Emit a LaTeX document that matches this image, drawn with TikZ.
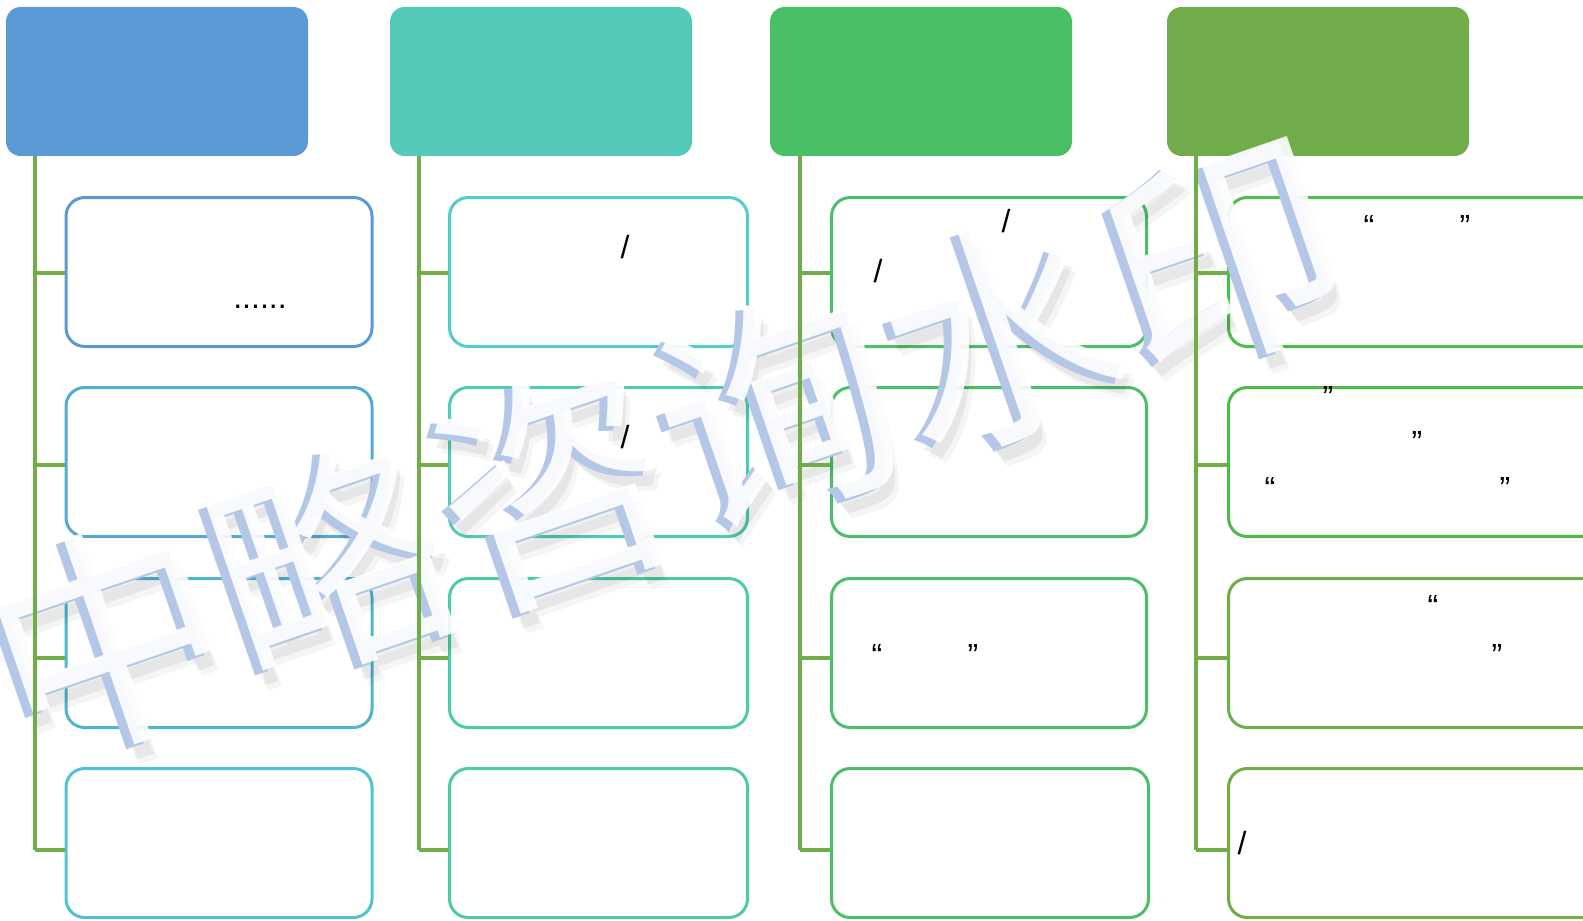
\documentclass[tikz,border=0pt]{standalone}
\usepackage{fontspec}
\setmainfont{Liberation Sans}
\newfontfamily\cjkfont{Noto Sans CJK SC}
\usepackage{tikz}
\usetikzlibrary{positioning}
\definecolor{headblue}{HTML}{5B9BD5}
\definecolor{headteal}{HTML}{53CAB7}
\definecolor{headgreen}{HTML}{4AC066}
\definecolor{headleaf}{HTML}{71AC4A}
\definecolor{trunkgreen}{HTML}{70AD47}
\definecolor{markblue}{HTML}{B4C7E7}
\definecolor{lineA}{HTML}{5B9BD5}
\definecolor{lineB}{HTML}{55A9D3}
\definecolor{lineC}{HTML}{50B5D0}
\definecolor{lineD}{HTML}{4FC3D3}
\definecolor{lineE}{HTML}{52CEC4}
\definecolor{lineF}{HTML}{50CCB4}
\definecolor{lineG}{HTML}{4ECBA8}
\definecolor{lineH}{HTML}{4ECBA0}
\definecolor{lineI}{HTML}{4CBF6A}
\definecolor{lineJ}{HTML}{4DBE4B}
\definecolor{lineK}{HTML}{4FBA4A}
\definecolor{lineL}{HTML}{6AB04A}
\tikzset{
  headbox/.style={fill=#1, rounded corners=11pt, inner sep=0pt,
    minimum width=226.5pt, minimum height=111.75pt},
  leafbox/.style={draw=#1, fill=white, line width=2.25pt, rounded corners=14pt,
    inner sep=0pt, minimum height=111.75pt},
  tree/.style={trunkgreen, line width=2.3pt},
  punct/.style={anchor=base, inner sep=0pt, font=\fontsize{24}{26}\selectfont},
  wmark/.style={rotate=19, inner sep=0pt, font=\cjkfont\fontsize{177}{177}\selectfont}
}

\begin{document}
\begin{tikzpicture}[x=0.75pt,y=-0.75pt]
\useasboundingbox (0,0) rectangle (1583,920);
\clip (0,0) rectangle (1583,920);
\node[headbox=headblue] (h1) at (157,81.5) {};
\node[headbox=headteal] (h2) at (541,81.5) {};
\node[headbox=headgreen] (h3) at (921,81.5) {};
\node[headbox=headleaf] (h4) at (1318,81.5) {};
\node[leafbox=lineA, minimum width=229.5pt] (b11) at (219,272) {};
\node[leafbox=lineB, minimum width=229.5pt] (b12) at (219,462) {};
\node[leafbox=lineC, minimum width=229.5pt] (b13) at (219,653) {};
\node[leafbox=lineD, minimum width=229.5pt] (b14) at (219,843) {};
\node[leafbox=lineE, minimum width=223.5pt] (b21) at (598.5,272) {};
\node[leafbox=lineF, minimum width=223.5pt] (b22) at (598.5,462) {};
\node[leafbox=lineG, minimum width=223.5pt] (b23) at (598.5,653) {};
\node[leafbox=lineH, minimum width=223.5pt] (b24) at (598.5,843) {};
\node[leafbox=lineI, minimum width=236.25pt] (b31) at (989,272) {};
\node[leafbox=lineI, minimum width=236.25pt] (b32) at (989,462) {};
\node[leafbox=lineI, minimum width=236.25pt] (b33) at (989,653) {};
\node[leafbox=lineI, minimum width=237.75pt] (b34) at (990,843) {};
\node[leafbox=lineJ, minimum width=285pt] (b41) at (1418.5,272) {};
\node[leafbox=lineK, minimum width=285pt] (b42) at (1418.5,462) {};
\node[leafbox=lineL, minimum width=285pt] (b43) at (1418.5,653) {};
\node[leafbox=trunkgreen, minimum width=285pt] (b44) at (1418.5,843) {};
\node[wmark, text=black, opacity=.04] (wms1) at (673,468) {中略咨询水印};
\node[wmark, text=black, opacity=.06] (wms2) at (669,463) {中略咨询水印};
\node[wmark, text=markblue] (wm) at (659,453) {中略咨询水印};
\node[wmark, text=white, opacity=.9] (wmf) at (667,448) {中略咨询水印};
\coordinate (j11) at (35,273);
\coordinate (j12) at (35,465);
\coordinate (j13) at (35,658);
\coordinate (j14) at (35,850);
\coordinate (j21) at (419,273);
\coordinate (j22) at (419,465);
\coordinate (j23) at (419,658);
\coordinate (j24) at (419,850);
\coordinate (j31) at (800,273);
\coordinate (j32) at (800,465);
\coordinate (j33) at (800,658);
\coordinate (j34) at (800,850);
\coordinate (j41) at (1196,273);
\coordinate (j42) at (1196,465);
\coordinate (j43) at (1196,658);
\coordinate (j44) at (1196,850);
\draw[tree] (h1.south -| j11) -- (j14);
\draw[tree] (h2.south -| j21) -- (j24);
\draw[tree] (h3.south -| j31) -- (j34);
\draw[tree] (h4.south -| j41) -- (j44);
\draw[tree] (j11) -- (j11 -| b11.west);
\draw[tree] (j12) -- (j12 -| b12.west);
\draw[tree] (j13) -- (j13 -| b13.west);
\draw[tree] (j14) -- (j14 -| b14.west);
\draw[tree] (j21) -- (j21 -| b21.west);
\draw[tree] (j22) -- (j22 -| b22.west);
\draw[tree] (j23) -- (j23 -| b23.west);
\draw[tree] (j24) -- (j24 -| b24.west);
\draw[tree] (j31) -- (j31 -| b31.west);
\draw[tree] (j32) -- (j32 -| b32.west);
\draw[tree] (j33) -- (j33 -| b33.west);
\draw[tree] (j34) -- (j34 -| b34.west);
\draw[tree] (j41) -- (j41 -| b41.west);
\draw[tree] (j42) -- (j42 -| b42.west);
\draw[tree] (j43) -- (j43 -| b43.west);
\draw[tree] (j44) -- (j44 -| b44.west);
\node[punct] (p11) at (260,308) {......};
\node[punct] (p21) at (625,258) {/};
\node[punct] (p22) at (625,448) {/};
\node[punct] (p31) at (1006,232) {/};
\node[punct] (p32) at (878,282) {/};
\node[punct] (p33) at (877,666) {“};
\node[punct] (p34) at (973,666) {”};
\node[punct] (p41) at (1369,237) {“};
\node[punct] (p42) at (1465,237) {”};
\node[punct] (p43) at (1328,408) {”};
\node[punct] (p44) at (1417,453) {”};
\node[punct] (p45) at (1270,499) {“};
\node[punct] (p46) at (1505,499) {”};
\node[punct] (p47) at (1433,617) {“};
\node[punct] (p48) at (1497,666) {”};
\node[punct] (p49) at (1242,854) {/};
\end{tikzpicture}
\end{document}
